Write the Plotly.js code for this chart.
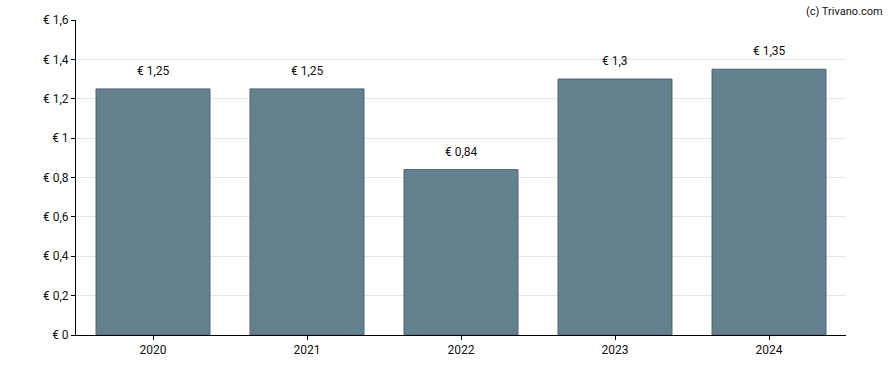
<!DOCTYPE html>
<html>
<head>
<meta charset="utf-8">
<script src="https://cdn.plot.ly/plotly-3.0.1.min.js"></script>
<style>html,body{margin:0;padding:0;background:#fff}#chart{width:888px;height:370px}</style>
</head>
<body>
<div id="chart"></div>
<script>
const years = ["2020", "2021", "2022", "2023", "2024"];
const dividends = [1.25, 1.25, 0.84, 1.3, 1.35];
const labels = ["€ 1,25", "€ 1,25", "€ 0,84", "€ 1,3", "€ 1,35"];
const yTicks = [0, 0.2, 0.4, 0.6, 0.8, 1, 1.2, 1.4, 1.6];
const yTickLabels = ["€ 0", "€ 0,2", "€ 0,4", "€ 0,6", "€ 0,8", "€ 1", "€ 1,2", "€ 1,4", "€ 1,6"];

const xPos = years.map((_, i) => i);

const trace = {
  type: "bar",
  x: xPos,
  y: dividends,
  width: 0.74,
  marker: {color: "#65818f", line: {color: "#4a6272", width: 1}},
  hoverinfo: "skip"
};

const annotations = xPos.map((xp, i) => ({
  x: xp, y: dividends[i], xref: "x", yref: "y",
  text: labels[i], showarrow: false, yanchor: "bottom", yshift: 9,
  font: {family: "Roboto, sans-serif", size: 12, color: "#111"}
}));
annotations.push({
  xref: "paper", yref: "paper", x: 1.05, y: 1.0, xanchor: "right", yanchor: "bottom",
  text: "(c) Trivano.com", showarrow: false,
  font: {family: "Roboto, sans-serif", size: 11, color: "#111"}
});

const layout = {
  width: 888, height: 370,
  margin: {l: 76, r: 42, t: 20, b: 35},
  paper_bgcolor: "#fff", plot_bgcolor: "#fff",
  showlegend: false,
  font: {family: "Roboto, sans-serif", size: 12, color: "#111"},
  xaxis: {
    type: "linear",
    range: [-0.5, years.length - 0.5],
    tickvals: xPos, ticktext: years,
    showline: true, linecolor: "#000", linewidth: 1,
    ticks: "outside", ticklen: 4, tickcolor: "#000",
    showgrid: false, zeroline: false,
    tickfont: {family: "Roboto, sans-serif", size: 12, color: "#111"}
  },
  yaxis: {
    range: [0, 1.6],
    tickvals: yTicks, ticktext: yTickLabels,
    showline: true, linecolor: "#000", linewidth: 1,
    ticks: "outside", ticklen: 4, tickcolor: "#000",
    showgrid: true, gridcolor: "#e6e6e6", gridwidth: 1,
    zeroline: false,
    tickfont: {family: "Roboto, sans-serif", size: 12, color: "#111"}
  },
  annotations: annotations
};

Plotly.newPlot("chart", [trace], layout, {displayModeBar: false, staticPlot: true});
</script>
</body>
</html>
